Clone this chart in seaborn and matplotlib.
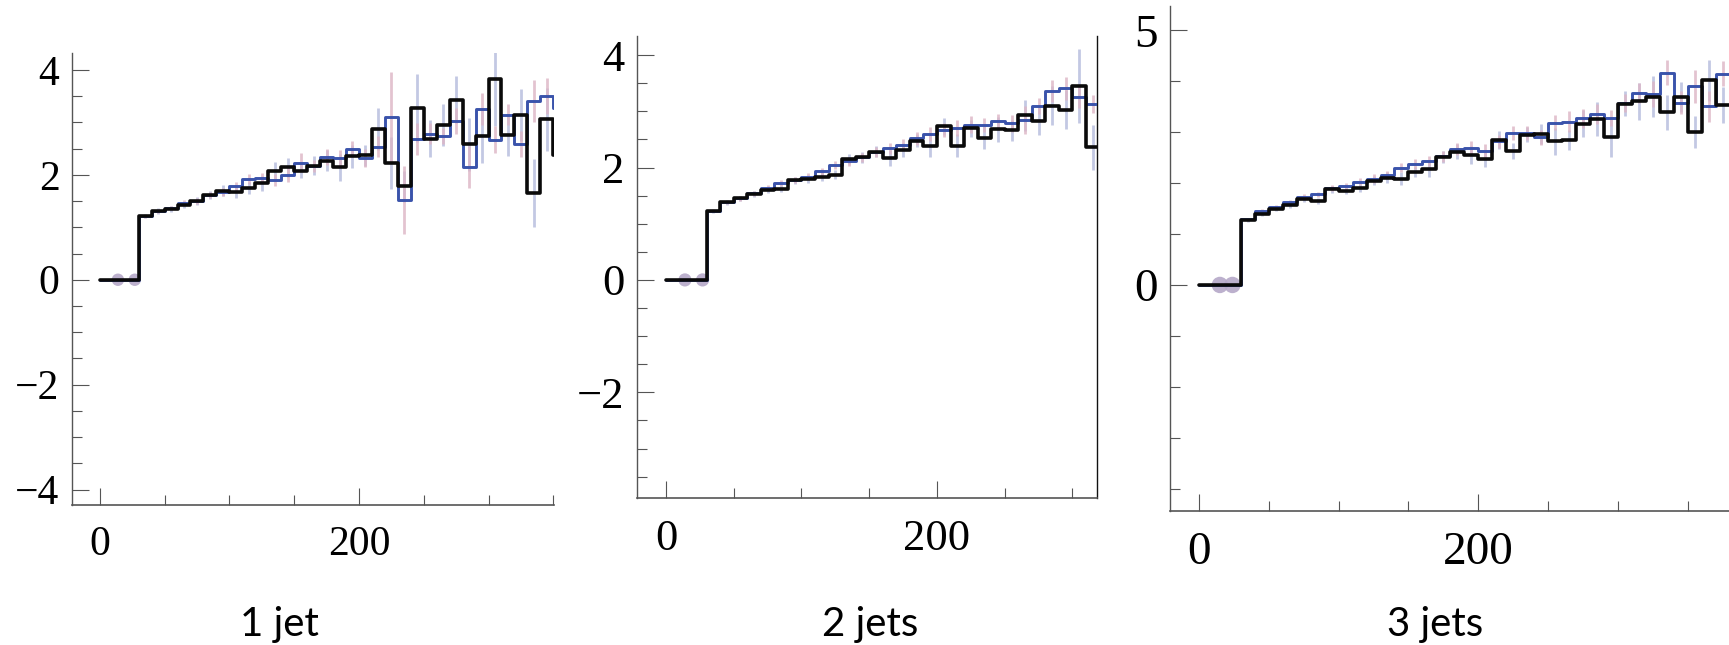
import matplotlib
matplotlib.use("Agg")
import matplotlib.pyplot as plt
import numpy as np
import seaborn as sns
from matplotlib.ticker import MultipleLocator

# Histogram bins are 10 wide starting at 0; the first three bins (0-30) are empty
bin_width = 10
empty_bins = 3

# 1 jet: values for bins 30, 40, ... 350
jet1_black = [1.21, 1.31, 1.35, 1.42, 1.50, 1.61, 1.70, 1.68, 1.75, 1.84, 2.08,
              2.14, 2.08, 2.17, 2.27, 2.14, 2.35, 2.37, 2.88, 2.22, 1.78, 3.27,
              2.69, 2.95, 3.43, 2.58, 2.73, 3.82, 2.75, 3.14, 1.65, 3.06, 2.38]
jet1_blue = [1.21, 1.31, 1.37, 1.46, 1.50, 1.62, 1.67, 1.78, 1.92, 1.94, 1.90,
             2.00, 2.23, 2.17, 2.34, 2.32, 2.49, 2.32, 2.53, 3.10, 1.52, 2.68,
             2.78, 2.74, 3.03, 2.14, 3.25, 2.67, 3.14, 2.59, 3.40, 3.50, 3.27]
jet1_err_black = [0.04, 0.05, 0.05, 0.06, 0.07, 0.08, 0.10, 0.12, 0.12, 0.14, 0.16,
                  0.18, 0.15, 0.18, 0.20, 0.25, 0.22, 0.20, 0.40, 0.50, 0.30, 0.65,
                  0.35, 0.40, 0.45, 0.50, 0.50, 0.90, 0.40, 0.50, 0.65, 0.60, 0.0]
jet1_err_blue = [0.03, 0.04, 0.04, 0.05, 0.05, 0.06, 0.07, 0.08, 0.09, 0.10, 0.12,
                 0.14, 0.18, 0.12, 0.15, 0.16, 0.15, 0.18, 0.20, 0.85, 0.65, 0.30,
                 0.20, 0.15, 0.25, 0.40, 0.30, 0.25, 0.20, 0.25, 0.40, 0.35, 0.0]
jet1_dots = [14, 27]

# 2 jets: values for bins 30, 40, ... 310
jet2_black = [1.22, 1.38, 1.45, 1.53, 1.60, 1.62, 1.77, 1.80, 1.84, 1.87, 2.15,
              2.18, 2.28, 2.17, 2.31, 2.48, 2.39, 2.73, 2.39, 2.70, 2.53, 2.68,
              2.66, 2.93, 2.82, 3.10, 3.03, 3.45, 2.36]
jet2_blue = [1.23, 1.38, 1.45, 1.54, 1.63, 1.72, 1.78, 1.84, 1.93, 2.04, 2.11,
             2.18, 2.28, 2.34, 2.40, 2.52, 2.60, 2.67, 2.70, 2.76, 2.76, 2.82,
             2.79, 2.85, 3.09, 3.36, 3.41, 3.25, 3.13]
jet2_err_black = [0.03, 0.04, 0.04, 0.05, 0.05, 0.06, 0.06, 0.07, 0.08, 0.08, 0.09,
                  0.10, 0.10, 0.15, 0.12, 0.12, 0.20, 0.15, 0.20, 0.15, 0.20, 0.22,
                  0.18, 0.28, 0.25, 0.35, 0.35, 0.65, 0.40]
jet2_err_blue = [0.03, 0.03, 0.04, 0.04, 0.05, 0.05, 0.05, 0.06, 0.06, 0.07, 0.08,
                 0.08, 0.09, 0.10, 0.10, 0.12, 0.12, 0.12, 0.14, 0.15, 0.12, 0.14,
                 0.15, 0.25, 0.14, 0.20, 0.20, 0.20, 0.16]
jet2_dots = [14, 27]

# 3 jets: values for bins 30, 40, ... 370
jet3_black = [1.27, 1.40, 1.50, 1.57, 1.68, 1.65, 1.88, 1.85, 1.90, 2.05, 2.11,
              2.09, 2.22, 2.28, 2.51, 2.62, 2.55, 2.47, 2.85, 2.63, 2.95, 2.97,
              2.82, 2.85, 3.17, 3.26, 2.90, 3.56, 3.61, 3.70, 3.39, 3.69, 3.01,
              4.02, 3.54]
jet3_blue = [1.29, 1.46, 1.53, 1.62, 1.73, 1.78, 1.90, 1.94, 2.03, 2.09, 2.16,
             2.30, 2.37, 2.44, 2.53, 2.67, 2.70, 2.64, 2.82, 2.99, 2.99, 2.90,
             3.19, 3.21, 3.27, 3.36, 3.28, 3.58, 3.77, 3.75, 4.17, 3.58, 3.90,
             3.51, 4.15]
jet3_err_black = [0.04, 0.04, 0.05, 0.05, 0.06, 0.06, 0.07, 0.07, 0.08, 0.09, 0.10,
                  0.12, 0.10, 0.15, 0.12, 0.15, 0.18, 0.15, 0.18, 0.15, 0.15, 0.20,
                  0.26, 0.20, 0.26, 0.34, 0.38, 0.25, 0.36, 0.40, 0.35, 0.30, 0.31,
                  0.40, 0.35]
jet3_err_blue = [0.03, 0.04, 0.04, 0.04, 0.05, 0.05, 0.06, 0.06, 0.07, 0.08, 0.08,
                 0.09, 0.10, 0.10, 0.11, 0.12, 0.12, 0.12, 0.13, 0.14, 0.14, 0.15,
                 0.15, 0.20, 0.18, 0.20, 0.16, 0.18, 0.20, 0.25, 0.25, 0.23, 0.33,
                 0.30, 0.25]
jet3_dots = [15, 24]

captions = ["1 jet", "2 jets", "3 jets"]

sns.set_theme(style="white")
plt.rcParams["font.family"] = ["Liberation Serif", "DejaVu Serif"]

BLUE = "#3a53ab"
BLACK = "#0a0a0a"
LAV = "#b9bfdf"
PINK = "#ddb5c5"
DOT = "#b5a8c8"
AXIS = "#555555"

panels = [
    dict(black=jet1_black, blue=jet1_blue, eb=jet1_err_black, eu=jet1_err_blue,
         dots=jet1_dots, rect=[0.0416, 0.2171, 0.2788, 0.7008],
         xlim=(-21.5, 350.5), ylim=(-4.29, 4.32), ymaj=2, ymin=0.5, fs=30,
         dot_size=80, right=False, cap_x=279),
    dict(black=jet2_black, blue=jet2_blue, eb=jet2_err_black, eu=jet2_err_blue,
         dots=jet2_dots, rect=[0.3684, 0.2279, 0.2660, 0.7163],
         xlim=(-21.4, 318), ylim=(-3.88, 4.34), ymaj=2, ymin=0.5, fs=32,
         dot_size=90, right=True, cap_x=870),
    dict(black=jet3_black, blue=jet3_blue, eb=jet3_err_black, eu=jet3_err_blue,
         dots=jet3_dots, rect=[0.6767, 0.2078, 0.3233, 0.7829],
         xlim=(-20.7, 379.5), ylim=(-4.44, 5.48), ymaj=5, ymin=1, fs=34,
         dot_size=140, right=False, cap_x=1435),
]

W, H = 1729, 645
fig = plt.figure(figsize=(W / 100, H / 100), dpi=100)

for p, caption in zip(panels, captions):
    ax = fig.add_axes(p["rect"])
    n = len(p["black"])
    edges = np.arange(n + empty_bins + 1) * bin_width
    centers = (np.arange(n) + empty_bins) * bin_width + bin_width / 2
    black = np.array([0.0] * empty_bins + p["black"] + [p["black"][-1]])
    blue = np.array([0.0] * empty_bins + p["blue"] + [p["blue"][-1]])

    # faint error bars behind the histograms
    vb = np.array(p["black"])
    vu = np.array(p["blue"])
    ax.vlines(centers, vb - np.array(p["eb"]), vb + np.array(p["eb"]),
              color=LAV, lw=2.0, alpha=0.85, zorder=1)
    ax.vlines(centers, vu - np.array(p["eu"]), vu + np.array(p["eu"]),
              color=PINK, lw=2.0, alpha=0.8, zorder=1)

    sns.lineplot(x=edges, y=blue, drawstyle="steps-post", color=BLUE,
                 lw=2.1, ax=ax, zorder=3)
    sns.lineplot(x=edges, y=black, drawstyle="steps-post", color=BLACK,
                 lw=2.6, ax=ax, zorder=4)
    sns.scatterplot(x=p["dots"], y=[0] * len(p["dots"]), color=DOT,
                    s=p["dot_size"], edgecolor="none", alpha=0.9, ax=ax, zorder=2)

    ax.set_xlim(*p["xlim"])
    ax.set_ylim(*p["ylim"])
    ax.xaxis.set_major_locator(MultipleLocator(200))
    ax.xaxis.set_minor_locator(MultipleLocator(50))
    ax.yaxis.set_major_locator(MultipleLocator(p["ymaj"]))
    ax.yaxis.set_minor_locator(MultipleLocator(p["ymin"]))
    ax.tick_params(which="major", direction="in", length=12, width=0.8,
                   color=AXIS, labelsize=p["fs"], labelcolor="black")
    ax.tick_params(axis="y", which="major", pad=9)
    ax.tick_params(axis="x", which="major", pad=15)
    ax.tick_params(which="minor", direction="in", length=7, width=0.8, color=AXIS)
    ax.tick_params(left=True, bottom=True, which="both")
    ax.set_xlabel("")
    ax.set_ylabel("")
    ax.set_facecolor("white")

    sns.despine(ax=ax, right=not p["right"])
    ax.spines["left"].set_color(AXIS)
    ax.spines["bottom"].set_color(AXIS)
    ax.spines["left"].set_linewidth(1.0)
    ax.spines["bottom"].set_linewidth(1.2)
    if p["right"]:
        ax.spines["right"].set_color("#111111")
        ax.spines["right"].set_linewidth(1.0)
    if ax.get_legend() is not None:
        ax.get_legend().remove()

    fig.text(p["cap_x"] / W, (H - 636) / H, caption, ha="center", va="baseline",
             fontsize=29, family=["Lato", "DejaVu Sans"], color="black")

fig.savefig("out.png", dpi=100, facecolor="white")
